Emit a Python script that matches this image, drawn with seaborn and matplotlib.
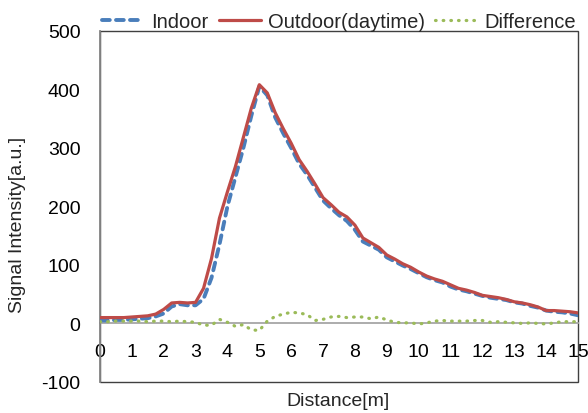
import numpy as np
import pandas as pd
import seaborn as sns
import matplotlib.pyplot as plt
from matplotlib.patches import Rectangle

# Values
distance = [0, 0.25, 0.5, 0.75, 1.0, 1.25, 1.5, 1.75, 2.0, 2.25, 2.5, 2.75,
            3.0, 3.25, 3.5, 3.75, 4.0, 4.25, 4.5, 4.75, 5.0, 5.25, 5.5, 5.75,
            6.0, 6.25, 6.5, 6.75, 7.0, 7.25, 7.5, 7.75, 8.0, 8.25, 8.5, 8.75,
            9.0, 9.25, 9.5, 9.75, 10.0, 10.25, 10.5, 10.75, 11.0, 11.25, 11.5,
            11.75, 12.0, 12.25, 12.5, 12.75, 13.0, 13.25, 13.5, 13.75, 14.0,
            14.25, 14.5, 14.75, 15.0]

indoor = [5, 5, 6, 6, 7, 8, 9, 12, 17, 29, 33, 31,
          31, 42, 78, 135, 200, 250, 300, 355, 405, 390, 352, 325,
          300, 273, 254, 232, 210, 197, 185, 175, 160, 140, 133, 126,
          113, 106, 99, 93, 86, 79, 74, 70, 63, 58, 55,
          51, 47, 44, 42, 40, 36, 34, 30, 27, 22,
          20, 19, 17, 14]

outdoor = [10, 10, 10, 10, 11, 12, 13, 16, 24, 35, 36, 35,
           36, 60, 111, 180, 225, 268, 318, 368, 408, 394, 360, 333,
           308, 280, 260, 238, 215, 203, 190, 182, 168, 146, 138, 130,
           117, 110, 102, 96, 88, 81, 76, 72, 66, 60, 57,
           53, 48, 46, 44, 41, 37, 35, 32, 28, 22,
           22, 21, 20, 18]

difference = [3, 3, 4, 4, 4, 4, 3, 4, 4, 3, 4, 3,
              2, -3, -3, 7, 2, -5, -2, -11, -12, 4, 12, 16,
              19, 18, 15, 5, 7, 11, 12, 10, 11, 11, 8, 11,
              6, 2, 1, 1, -1, 1, 4, 5, 4, 4, 4,
              5, 5, 2, 3, 2, 1, 0, 1, 0, -1,
              1, 3, 3, 3]

series_names = ['Indoor', 'Outdoor(daytime)', 'Difference']

df = pd.concat([
    pd.DataFrame({'distance': distance, 'value': vals, 'series': name})
    for name, vals in zip(series_names, [indoor, outdoor, difference])
])

sns.set_style('white')
plt.rcParams['font.family'] = ['Liberation Sans', 'DejaVu Sans']
plt.rcParams['font.size'] = 14
plt.rcParams['axes.unicode_minus'] = False

fig = plt.figure(figsize=(5.88, 4.14), dpi=100)
ax = fig.add_axes([0.170, 0.075, 0.813, 0.848])

palette = {'Indoor': '#4A7EBB', 'Outdoor(daytime)': '#BE4B48', 'Difference': '#9BBB59'}
dashes = {'Indoor': (2.0, 1.6), 'Outdoor(daytime)': '', 'Difference': (0.2, 2.2)}
widths = {'Indoor': 2.8, 'Outdoor(daytime)': 2.3, 'Difference': 2.3}
sns.lineplot(data=df, x='distance', y='value', hue='series', style='series',
             hue_order=series_names, style_order=series_names,
             palette=palette, dashes=dashes, linewidth=2.4, ax=ax, zorder=3)
for line in ax.lines:
    line.set_dash_capstyle('round')
    line.set_solid_capstyle('round')
    line.set_solid_joinstyle('round')

ax.set_xlim(0, 15)
ax.set_ylim(-100, 500)
ax.set_xticks(range(0, 16))
ax.set_yticks(range(-100, 501, 100))
ax.tick_params(axis='both', length=0, labelsize=14, colors='black')
ax.tick_params(axis='x', pad=14)
ax.tick_params(axis='y', pad=14)
ax.set_xlabel('')
ax.set_ylabel('')

# x axis crosses at zero like the original, plot box drawn separately
ax.spines['top'].set_visible(False)
ax.spines['right'].set_visible(False)
ax.spines['bottom'].set_position(('data', 0))
ax.spines['bottom'].set_color('#A6A6A6')
ax.spines['bottom'].set_linewidth(1.3)
ax.spines['bottom'].set_zorder(1)
ax.spines['left'].set_color('#868686')
ax.spines['left'].set_linewidth(1.3)
ax.add_patch(Rectangle((0, 0), 1, 1, transform=ax.transAxes, fill=False,
                       edgecolor='#404040', lw=1.0, clip_on=False, zorder=0))

fig.text(18 / 588, 0.457, 'Signal Intensity[a.u.]', rotation=90,
         ha='center', va='center', fontsize=14)
fig.text(338 / 588, 1 - 402 / 414, 'Distance[m]', ha='center', va='center',
         fontsize=14)

sns.move_legend(ax, 'lower center', bbox_to_anchor=(0.5, 1.0), ncol=3,
                title=None, frameon=False, fontsize=14.5, handlelength=2.1,
                handletextpad=0.35, columnspacing=0.5, borderpad=0,
                borderaxespad=0)

# per-series line widths, also on the legend handles
for line in ax.lines + ax.get_legend().get_lines():
    name = line.get_label()
    if name in widths:
        line.set_linewidth(widths[name])
        line.set_dash_capstyle('round')
for line, name in zip(ax.get_legend().get_lines(), series_names):
    line.set_linewidth(widths[name])
    line.set_dash_capstyle('round')
for line, name in zip(ax.lines, series_names):
    line.set_linewidth(widths[name])

fig.savefig('out.png', dpi=100)
